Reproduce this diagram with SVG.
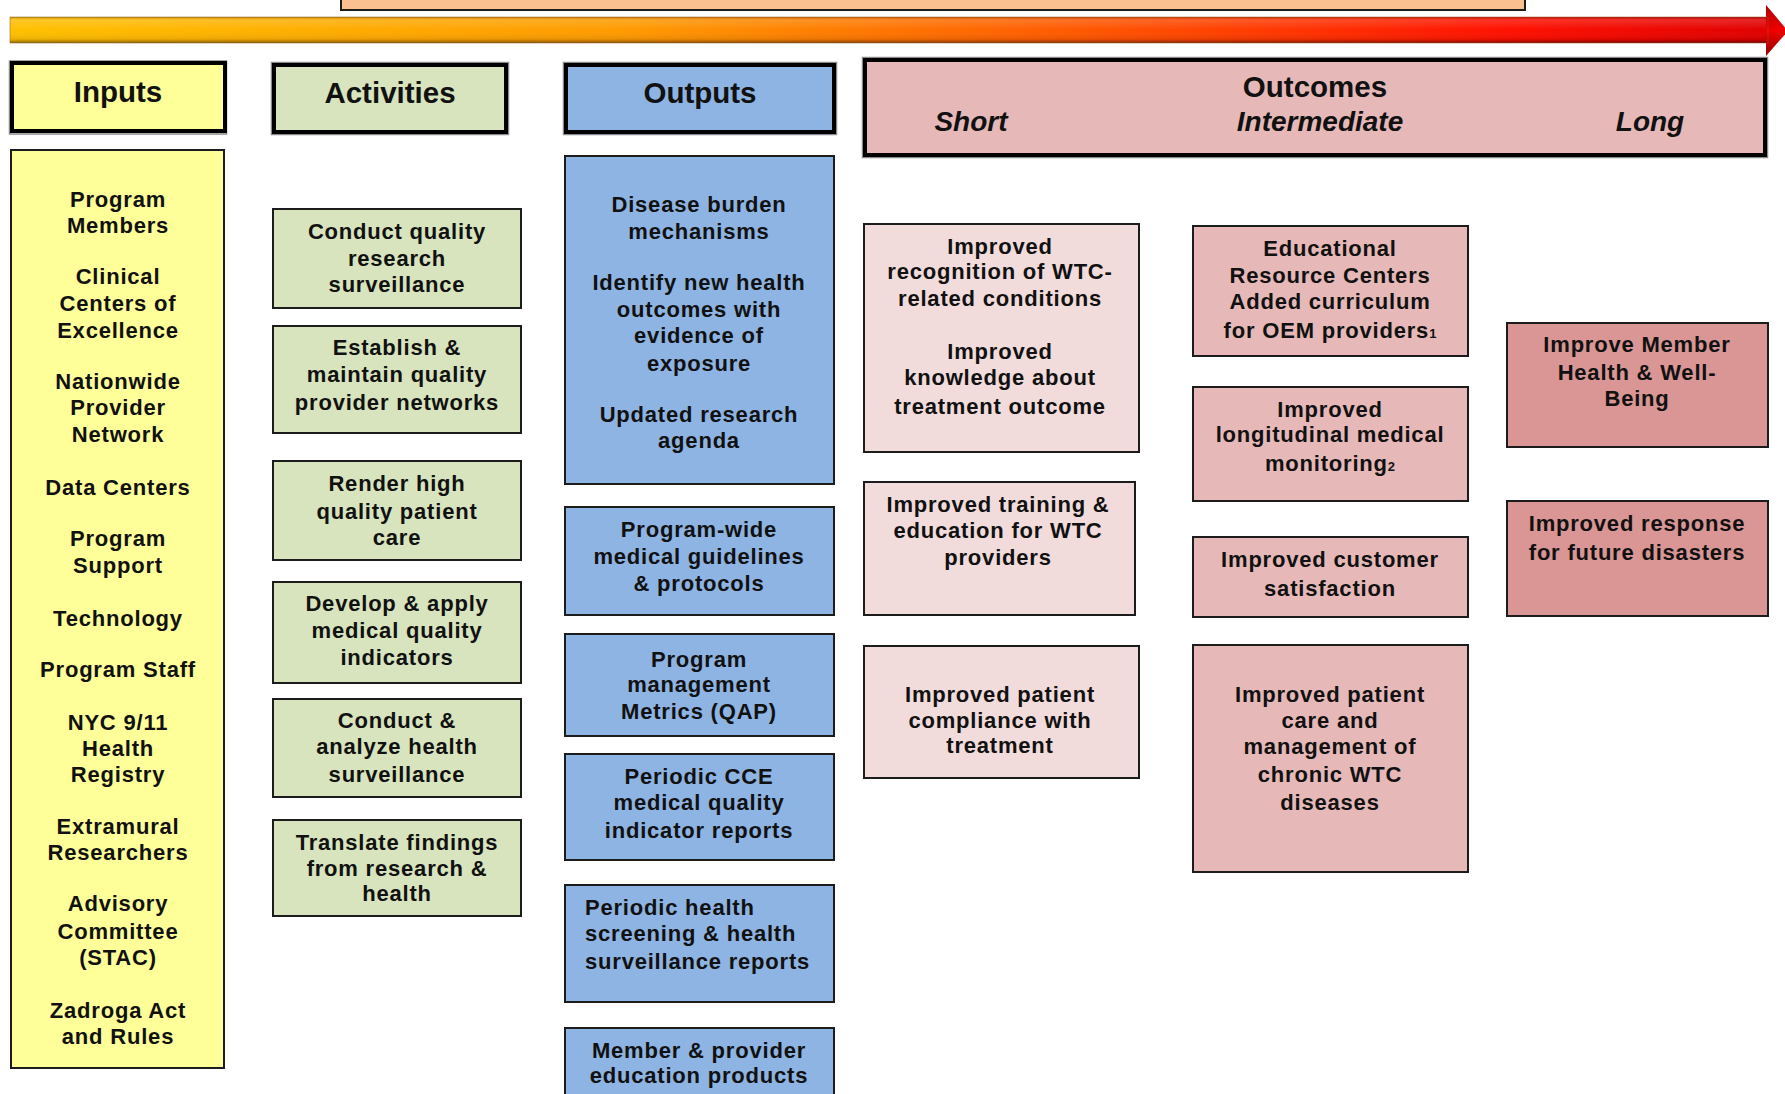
<svg xmlns="http://www.w3.org/2000/svg" width="1785" height="1094" viewBox="0 0 1785 1094">
<defs>
<linearGradient id="barH" x1="0" y1="0" x2="1" y2="0">
<stop offset="0" stop-color="#FFC000"/>
<stop offset="0.35" stop-color="#FF9A00"/>
<stop offset="0.6" stop-color="#FF5A00"/>
<stop offset="0.85" stop-color="#FF1000"/>
<stop offset="1" stop-color="#E00000"/>
</linearGradient>
<linearGradient id="barV" x1="0" y1="0" x2="0" y2="1">
<stop offset="0" stop-color="#000" stop-opacity="0.25"/>
<stop offset="0.12" stop-color="#fff" stop-opacity="0.15"/>
<stop offset="0.5" stop-color="#fff" stop-opacity="0"/>
<stop offset="0.85" stop-color="#000" stop-opacity="0.08"/>
<stop offset="1" stop-color="#000" stop-opacity="0.45"/>
</linearGradient>
<linearGradient id="headV" x1="0" y1="0" x2="0" y2="1">
<stop offset="0" stop-color="#B00000"/>
<stop offset="0.5" stop-color="#F00000"/>
<stop offset="1" stop-color="#900000"/>
</linearGradient>
</defs>
<style>
.box{stroke:#1c1c1c;stroke-width:2}
.hdr{stroke:#000;stroke-width:4}
.hdrsh{fill:none;stroke:#8a8a8a;stroke-width:1.5}
.yel{fill:#FFFF99}
.grn{fill:#D7E4BD}
.blu{fill:#8EB4E3}
.pk1{fill:#F2DCDB}
.pk2{fill:#E6B9B8}
.pk3{fill:#D99694}
text{font-family:"Liberation Sans",Arial,sans-serif;font-weight:bold;fill:#111}
.t{font-size:22px;letter-spacing:0.8px;text-anchor:middle}
.tl{font-size:22px;letter-spacing:0.8px;text-anchor:start}
.h{font-size:29.5px;text-anchor:middle}
.hi{font-size:28px;font-style:italic;text-anchor:middle}
.sub{font-size:13px;letter-spacing:0}
</style>
<rect width="1785" height="1094" fill="#fff"/>

<g id="top-banner">
<rect x="341" y="-4" width="1184" height="14" fill="#FAC090" stroke="#1c1c1c" stroke-width="2"/>
</g>

<g id="connectors">
<g id="timeline-arrow">
<rect x="10" y="17" width="1758" height="26" fill="url(#barH)"/>
<rect x="10" y="17" width="1758" height="26" fill="url(#barV)"/>
<polygon points="1766,5 1788,31 1766,56" fill="url(#headV)"/>
<rect x="10" y="17" width="1758" height="26" fill="none" stroke="#8a5a20" stroke-opacity="0.5" stroke-width="1"/>
</g>
</g>

<g id="hdr-inputs">
<rect class="hdrsh" x="9.5" y="61" width="217" height="73"/>
<rect class="yel hdr" x="12" y="63" width="213" height="68"/>
<text class="h" x="118" y="102">Inputs</text>
</g>
<g id="hdr-activities">
<rect class="hdrsh" x="271.5" y="62.5" width="237" height="72"/>
<rect class="grn hdr" x="274" y="65" width="232" height="67"/>
<text class="h" x="390" y="103">Activities</text>
</g>
<g id="hdr-outputs">
<rect class="hdrsh" x="563.5" y="62.5" width="273" height="72"/>
<rect class="blu hdr" x="566" y="65" width="268" height="67"/>
<text class="h" x="700" y="103">Outputs</text>
</g>
<g id="hdr-outcomes">
<rect class="hdrsh" x="862.5" y="57.5" width="905" height="100"/>
<rect class="pk2 hdr" x="865" y="60" width="900" height="95"/>
<text class="h" x="1315" y="97">Outcomes</text>
<text class="hi" x="971" y="131">Short</text>
<text class="hi" x="1320" y="131">Intermediate</text>
<text class="hi" x="1650" y="131">Long</text>
</g>

<g id="inputs">
<rect class="yel box" x="11" y="150" width="213" height="918"/>
<text class="t" x="118" y="206.6">Program</text>
<text class="t" x="118" y="232.8">Members</text>
<text class="t" x="118" y="284">Clinical</text>
<text class="t" x="118" y="311">Centers of</text>
<text class="t" x="118" y="337.5">Excellence</text>
<text class="t" x="118" y="388.7">Nationwide</text>
<text class="t" x="118" y="415">Provider</text>
<text class="t" x="118" y="442">Network</text>
<text class="t" x="118" y="494.6">Data Centers</text>
<text class="t" x="118" y="545.8">Program</text>
<text class="t" x="118" y="573">Support</text>
<text class="t" x="118" y="625.5">Technology</text>
<text class="t" x="118" y="676.7">Program Staff</text>
<text class="t" x="118" y="730">NYC 9/11</text>
<text class="t" x="118" y="755.5">Health</text>
<text class="t" x="118" y="781.5">Registry</text>
<text class="t" x="118" y="833.8">Extramural</text>
<text class="t" x="118" y="860">Researchers</text>
<text class="t" x="118" y="911.3">Advisory</text>
<text class="t" x="118" y="938.5">Committee</text>
<text class="t" x="118" y="964.8">(STAC)</text>
<text class="t" x="118" y="1018.3">Zadroga Act</text>
<text class="t" x="118" y="1043.5">and Rules</text>
</g>

<g id="act-1">
<rect class="grn box" x="273" y="209" width="248" height="99"/>
<text class="t" x="397" y="238.5">Conduct quality</text>
<text class="t" x="397" y="265.8">research</text>
<text class="t" x="397" y="292">surveillance</text>
</g>
<g id="act-2">
<rect class="grn box" x="273" y="326" width="248" height="107"/>
<text class="t" x="397" y="354.6">Establish &amp;</text>
<text class="t" x="397" y="381.9">maintain quality</text>
<text class="t" x="397" y="410.4">provider networks</text>
</g>
<g id="act-3">
<rect class="grn box" x="273" y="461" width="248" height="99"/>
<text class="t" x="397" y="491.2">Render high</text>
<text class="t" x="397" y="518.5">quality patient</text>
<text class="t" x="397" y="544.7">care</text>
</g>
<g id="act-4">
<rect class="grn box" x="273" y="582" width="248" height="101"/>
<text class="t" x="397" y="610.7">Develop &amp; apply</text>
<text class="t" x="397" y="638">medical quality</text>
<text class="t" x="397" y="665.3">indicators</text>
</g>
<g id="act-5">
<rect class="grn box" x="273" y="699" width="248" height="98"/>
<text class="t" x="397" y="728">Conduct &amp;</text>
<text class="t" x="397" y="754.1">analyze health</text>
<text class="t" x="397" y="781.5">surveillance</text>
</g>
<g id="act-6">
<rect class="grn box" x="273" y="820" width="248" height="96"/>
<text class="t" x="397" y="849.8">Translate findings</text>
<text class="t" x="397" y="876">from research &amp;</text>
<text class="t" x="397" y="901">health</text>
</g>

<g id="out-1">
<rect class="blu box" x="565" y="156" width="269" height="328"/>
<text class="t" x="699" y="212.3">Disease burden</text>
<text class="t" x="699" y="238.5">mechanisms</text>
<text class="t" x="699" y="289.7">Identify new health</text>
<text class="t" x="699" y="317">outcomes with</text>
<text class="t" x="699" y="343.2">evidence of</text>
<text class="t" x="699" y="370.5">exposure</text>
<text class="t" x="699" y="421.7">Updated research</text>
<text class="t" x="699" y="447.9">agenda</text>
</g>
<g id="out-2">
<rect class="blu box" x="565" y="507" width="269" height="108"/>
<text class="t" x="699" y="536.7">Program-wide</text>
<text class="t" x="699" y="564">medical guidelines</text>
<text class="t" x="699" y="591.4">&amp; protocols</text>
</g>
<g id="out-3">
<rect class="blu box" x="565" y="634" width="269" height="102"/>
<text class="t" x="699" y="666.5">Program</text>
<text class="t" x="699" y="691.5">management</text>
<text class="t" x="699" y="718.9">Metrics (QAP)</text>
</g>
<g id="out-4">
<rect class="blu box" x="565" y="754" width="269" height="106"/>
<text class="t" x="699" y="783.8">Periodic CCE</text>
<text class="t" x="699" y="809.9">medical quality</text>
<text class="t" x="699" y="838.4">indicator reports</text>
</g>
<g id="out-5">
<rect class="blu box" x="565" y="885" width="269" height="117"/>
<text class="tl" x="585" y="914.7">Periodic health</text>
<text class="tl" x="585" y="940.9">screening &amp; health</text>
<text class="tl" x="585" y="969.3">surveillance reports</text>
</g>
<g id="out-6">
<rect class="blu box" x="565" y="1028" width="269" height="80"/>
<text class="t" x="699" y="1058.1">Member &amp; provider</text>
<text class="t" x="699" y="1083.2">education products</text>
</g>

<g id="short-1">
<rect class="pk1 box" x="864" y="224" width="275" height="228"/>
<text class="t" x="1000" y="254.4">Improved</text>
<text class="t" x="1000" y="279.4">recognition of WTC-</text>
<text class="t" x="1000" y="305.6">related conditions</text>
<text class="t" x="1000" y="359.1">Improved</text>
<text class="t" x="1000" y="385.3">knowledge about</text>
<text class="t" x="1000" y="413.8">treatment outcome</text>
</g>
<g id="short-2">
<rect class="pk1 box" x="864" y="482" width="271" height="133"/>
<text class="t" x="998" y="511.7">Improved training &amp;</text>
<text class="t" x="998" y="537.9">education for WTC</text>
<text class="t" x="998" y="565.2">providers</text>
</g>
<g id="short-3">
<rect class="pk1 box" x="864" y="646" width="275" height="132"/>
<text class="t" x="1000" y="701.8">Improved patient</text>
<text class="t" x="1000" y="728">compliance with</text>
<text class="t" x="1000" y="753">treatment</text>
</g>

<g id="inter-1">
<rect class="pk2 box" x="1193" y="226" width="275" height="130"/>
<text class="t" x="1330" y="255.5">Educational</text>
<text class="t" x="1330" y="282.9">Resource Centers</text>
<text class="t" x="1330" y="309">Added curriculum</text>
<text class="t" x="1330" y="337.5">for OEM providers<tspan class="sub">1</tspan></text>
</g>
<g id="inter-2">
<rect class="pk2 box" x="1193" y="387" width="275" height="114"/>
<text class="t" x="1330" y="417.2">Improved</text>
<text class="t" x="1330" y="442.2">longitudinal medical</text>
<text class="t" x="1330" y="470.7">monitoring<tspan class="sub">2</tspan></text>
</g>
<g id="inter-3">
<rect class="pk2 box" x="1193" y="537" width="275" height="80"/>
<text class="t" x="1330" y="567.4">Improved customer</text>
<text class="t" x="1330" y="595.9">satisfaction</text>
</g>
<g id="inter-4">
<rect class="pk2 box" x="1193" y="645" width="275" height="227"/>
<text class="t" x="1330" y="701.8">Improved patient</text>
<text class="t" x="1330" y="728">care and</text>
<text class="t" x="1330" y="754.1">management of</text>
<text class="t" x="1330" y="781.5">chronic WTC</text>
<text class="t" x="1330" y="809.9">diseases</text>
</g>

<g id="long-1">
<rect class="pk3 box" x="1507" y="323" width="261" height="124"/>
<text class="t" x="1637" y="352.3">Improve Member</text>
<text class="t" x="1637" y="379.6">Health &amp; Well-</text>
<text class="t" x="1637" y="405.8">Being</text>
</g>
<g id="long-2">
<rect class="pk3 box" x="1507" y="501" width="261" height="115"/>
<text class="t" x="1637" y="531">Improved response</text>
<text class="t" x="1637" y="559.5">for future disasters</text>
</g>
</svg>
